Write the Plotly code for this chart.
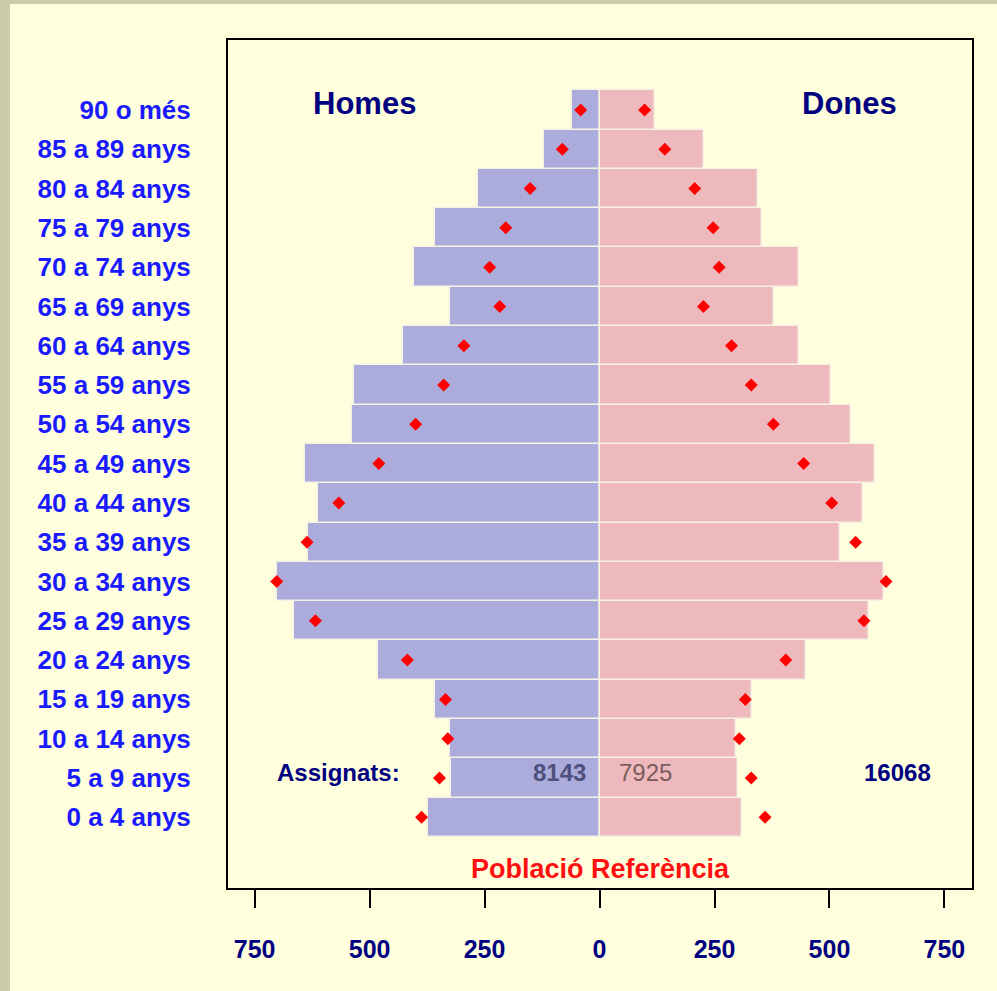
import plotly.graph_objects as go

# age groups, bottom to top
age_groups = ["0 a 4 anys", "5 a 9 anys", "10 a 14 anys", "15 a 19 anys", "20 a 24 anys",
              "25 a 29 anys", "30 a 34 anys", "35 a 39 anys", "40 a 44 anys", "45 a 49 anys",
              "50 a 54 anys", "55 a 59 anys", "60 a 64 anys", "65 a 69 anys", "70 a 74 anys",
              "75 a 79 anys", "80 a 84 anys", "85 a 89 anys", "90 o més"]

# assigned population
homes = [372, 322, 326, 358, 482, 664, 701, 634, 612, 640,
         538, 534, 428, 326, 403, 358, 265, 121, 59]
dones = [309, 301, 296, 331, 450, 586, 618, 524, 572, 599,
         546, 503, 433, 379, 433, 353, 344, 227, 121]

# reference population (diamonds)
ref_homes = [387, 348, 330, 335, 418, 618, 702, 636, 567, 480,
             400, 339, 295, 217, 239, 204, 151, 81, 41]
ref_dones = [360, 330, 304, 317, 405, 575, 623, 557, 505, 444,
             378, 330, 287, 226, 260, 247, 207, 142, 98]

tick_vals = [-750, -500, -250, 0, 250, 500, 750]
tick_text = ["750", "500", "250", "0", "250", "500", "750"]

BG = "#FFFFDD"
NAVY = "#000080"
FONT = "Liberation Sans, Arial, sans-serif"

W, H = 997, 991
L, R, T, B = 228, 25, 40, 103


def px_x(p):
    return (p - L) / (W - L - R)


def px_y(p):
    return 1 - (p - T) / (H - T - B)


fig = go.Figure()
fig.add_trace(go.Bar(y=age_groups, x=[-v for v in homes], orientation="h", width=1,
                     marker=dict(color="#ACACDC", line=dict(color="#F6F2E2", width=1.5)),
                     name="Homes", showlegend=False))
fig.add_trace(go.Bar(y=age_groups, x=dones, orientation="h", width=1,
                     marker=dict(color="#EDB9BC", line=dict(color="#F6F2E2", width=1.5)),
                     name="Dones", showlegend=False))
fig.add_trace(go.Scatter(y=age_groups, x=[-v for v in ref_homes], mode="markers",
                         marker=dict(symbol="diamond", size=10, color="#FF0000"),
                         showlegend=False))
fig.add_trace(go.Scatter(y=age_groups, x=ref_dones, mode="markers",
                         marker=dict(symbol="diamond", size=10, color="#FF0000"),
                         showlegend=False))

total_h = sum(homes)
total_d = sum(dones)

ann = [
    dict(text="<b>Homes</b>", x=-511, xref="x", y=px_y(103), yref="paper",
         font=dict(size=31, color=NAVY)),
    dict(text="<b>Dones</b>", x=544, xref="x", y=px_y(103), yref="paper",
         font=dict(size=31, color=NAVY)),
    dict(text="<b>Assignats:</b>", x=-705, xref="x", xanchor="left", y=px_y(772), yref="paper",
         font=dict(size=24, color=NAVY)),
    dict(text="<b>%d</b>" % total_h, x=-26, xref="x", xanchor="right", y=px_y(772), yref="paper",
         font=dict(size=24, color="#50507E")),
    dict(text="%d" % total_d, x=39, xref="x", xanchor="left", y=px_y(772), yref="paper",
         font=dict(size=24, color="#7A5C5C")),
    dict(text="<b>%d</b>" % (total_h + total_d), x=725, xref="x", xanchor="right",
         y=px_y(772), yref="paper", font=dict(size=24, color=NAVY)),
    dict(text="<b>Població Referència</b>", x=0.5, xref="paper", y=px_y(869), yref="paper",
         font=dict(size=27, color="#FF1010")),
]
for a in ann:
    a.update(showarrow=False, yanchor="middle")
    a.setdefault("xanchor", "center")
    a["font"]["family"] = FONT

# frame strips of the page
shapes = [
    dict(type="rect", xref="paper", yref="paper", x0=px_x(0), x1=px_x(10), y0=px_y(H), y1=px_y(0),
         fillcolor="#CCCCAA", line=dict(width=0), layer="below"),
    dict(type="rect", xref="paper", yref="paper", x0=px_x(0), x1=px_x(W), y0=px_y(4), y1=px_y(0),
         fillcolor="#CCCCAA", line=dict(width=0), layer="below"),
]

fig.update_layout(
    width=W, height=H,
    margin=dict(l=L, r=R, t=T, b=B),
    paper_bgcolor=BG, plot_bgcolor=BG,
    barmode="relative", bargap=0,
    annotations=ann, shapes=shapes,
    font=dict(family=FONT),
)
fig.update_xaxes(range=[-808, 810], tickvals=tick_vals, ticktext=tick_text,
                 ticks="outside", ticklen=18, tickwidth=2, tickcolor="black",
                 ticklabelstandoff=20,
                 tickfont=dict(size=25, color=NAVY, family=FONT, weight="bold"),
                 showgrid=False, zeroline=False,
                 showline=True, linecolor="black", linewidth=2, mirror=True)
fig.update_yaxes(range=[-1.8, 19.78], ticks="", ticklabelstandoff=30,
                 tickfont=dict(size=26, color="#1A1AFF", family=FONT, weight="bold"),
                 showgrid=False, zeroline=False,
                 showline=True, linecolor="black", linewidth=2, mirror=True)

fig.write_html("out.html", config={"displayModeBar": False},
               post_script="document.body.style.margin='0';")
